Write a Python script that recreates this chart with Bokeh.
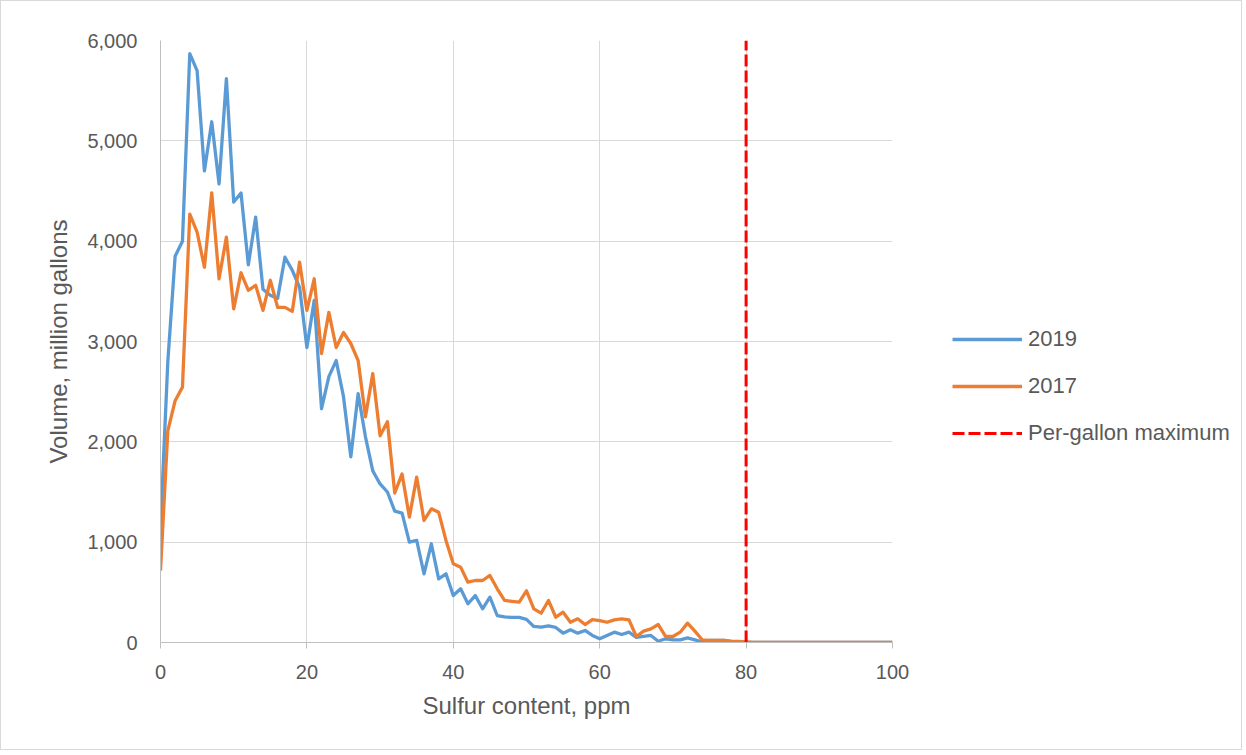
from bokeh.plotting import figure
from bokeh.layouts import row
from bokeh.models import (Range1d, FixedTicker, NumeralTickFormatter, Legend, LegendItem)
from bokeh.embed import file_html
from bokeh.resources import INLINE

# ---- data ----
sulfur_ppm = list(range(0, 101))

vol_2019 = [1150, 2800, 3850, 4000, 5870, 5700, 4700, 5190, 4570, 5620,
            4390, 4480, 3765, 4240, 3520, 3460, 3430, 3840, 3710, 3540,
            2940, 3410, 2330, 2650, 2810, 2450, 1850, 2480, 2050, 1710,
            1580, 1500, 1310, 1290, 1000, 1017, 685, 984, 635, 685,
            468, 535, 386, 468, 336, 452, 269, 255, 250, 250,
            230, 160, 153, 165, 150, 93, 126, 93, 120, 70,
            37, 70, 103, 80, 103, 50, 60, 70, 13, 37,
            27, 27, 47, 27, 7, 20, 20, 20, 7, 5,
            0, 0, 0, 0, 0, 0, 0, 0, 0, 0,
            0, 0, 0, 0, 0, 0, 0, 0, 0, 0, 0]

vol_2017 = [717, 2110, 2410, 2545, 4270, 4090, 3740, 4480, 3625, 4040,
            3325, 3685, 3510, 3560, 3310, 3610, 3340, 3340, 3300, 3790,
            3310, 3625, 2880, 3290, 2940, 3090, 2980, 2810, 2250, 2680,
            2060, 2200, 1490, 1680, 1250, 1648, 1216, 1332, 1299, 1017,
            784, 751, 601, 618, 618, 668, 535, 419, 410, 402,
            515, 336, 292, 419, 252, 302, 202, 236, 179, 229,
            219, 202, 226, 236, 225, 60, 113, 136, 179, 60,
            60, 103, 193, 113, 27, 20, 20, 20, 13, 10,
            5, 0, 0, 0, 0, 0, 0, 0, 0, 0,
            0, 0, 0, 0, 0, 0, 0, 0, 0, 0, 0]

per_gallon_max = 80
x_ticks = [0, 20, 40, 60, 80, 100]
y_ticks = [0, 1000, 2000, 3000, 4000, 5000, 6000]
x_min, x_max = 0, 100
y_min, y_max = 0, 6000

FONT = "Liberation Sans"
TXT = "#595959"
C19, C17, CMAX = "#5b9bd5", "#ed7d31", "#ff0000"
LW = 3.3

p = figure(width=911, height=748, output_backend="svg", toolbar_location=None,
           x_range=Range1d(x_min, x_max), y_range=Range1d(y_min, y_max),
           min_border_left=159, min_border_right=20, min_border_top=39,
           min_border_bottom=107)
p.outline_line_color = None
p.background_fill_color = "white"
p.border_fill_color = "white"

p.xaxis.ticker = FixedTicker(ticks=x_ticks)
p.yaxis.ticker = FixedTicker(ticks=y_ticks)
p.yaxis.formatter = NumeralTickFormatter(format="0,0")
p.xgrid.grid_line_color = "#d9d9d9"
p.ygrid.grid_line_color = "#d9d9d9"

for ax in (p.xaxis[0], p.yaxis[0]):
    ax.axis_line_color = "#bfbfbf"
    ax.major_tick_line_color = "#bfbfbf"
    ax.minor_tick_line_color = None
    ax.major_label_text_font = FONT
    ax.major_label_text_font_size = "20px"
    ax.major_label_text_color = TXT
    ax.axis_label_text_font = FONT
    ax.axis_label_text_font_size = "24px"
    ax.axis_label_text_font_style = "normal"
    ax.axis_label_text_color = TXT

p.xaxis.major_tick_in = 0
p.xaxis.major_tick_out = 6
p.xaxis.major_label_standoff = 16
p.xaxis.axis_label = "Sulfur content, ppm"
p.xaxis.axis_label_standoff = 10

p.yaxis.major_tick_in = 0
p.yaxis.major_tick_out = 0
p.yaxis.major_label_standoff = 23
p.yaxis.axis_label = "Volume, million gallons"
p.yaxis.axis_label_standoff = 12

p.line(sulfur_ppm, vol_2019, line_color=C19, line_width=LW, line_join="round")
p.line(sulfur_ppm, vol_2017, line_color=C17, line_width=LW, line_join="round")
p.line([per_gallon_max, per_gallon_max], [y_min, y_max], line_color=CMAX,
       line_width=3, line_dash="12 4")

# legend panel (its key lines use the same data, kept outside the visible range)
p2 = figure(width=329, height=748, output_backend="svg", toolbar_location=None,
            x_range=Range1d(0, 1), y_range=Range1d(-2, -1),
            min_border_left=0, min_border_right=0, min_border_top=0, min_border_bottom=0)
p2.axis.visible = False
p2.grid.visible = False
p2.outline_line_color = None
p2.background_fill_color = "white"
p2.border_fill_color = "white"
k19 = p2.line(sulfur_ppm, vol_2019, line_color=C19, line_width=LW)
k17 = p2.line(sulfur_ppm, vol_2017, line_color=C17, line_width=LW)
kmax = p2.line([per_gallon_max, per_gallon_max], [y_min, y_max], line_color=CMAX,
               line_width=3, line_dash="12 4")

legend = Legend(items=[LegendItem(label="2019", renderers=[k19]),
                       LegendItem(label="2017", renderers=[k17]),
                       LegendItem(label="Per-gallon maximum", renderers=[kmax])],
                location=(40, 196))
legend.glyph_width = 70
legend.glyph_height = 24
legend.label_height = 24
legend.spacing = 21
legend.padding = 0
legend.margin = 0
legend.label_standoff = 6
legend.label_text_font = FONT
legend.label_text_font_size = "22px"
legend.label_text_color = TXT
legend.border_line_color = None
legend.background_fill_alpha = 0
p2.add_layout(legend)

layout = row(p, p2)
layout.styles = {"border": "1px solid #d9d9d9"}

open("out.html", "w").write(file_html(layout, INLINE))
